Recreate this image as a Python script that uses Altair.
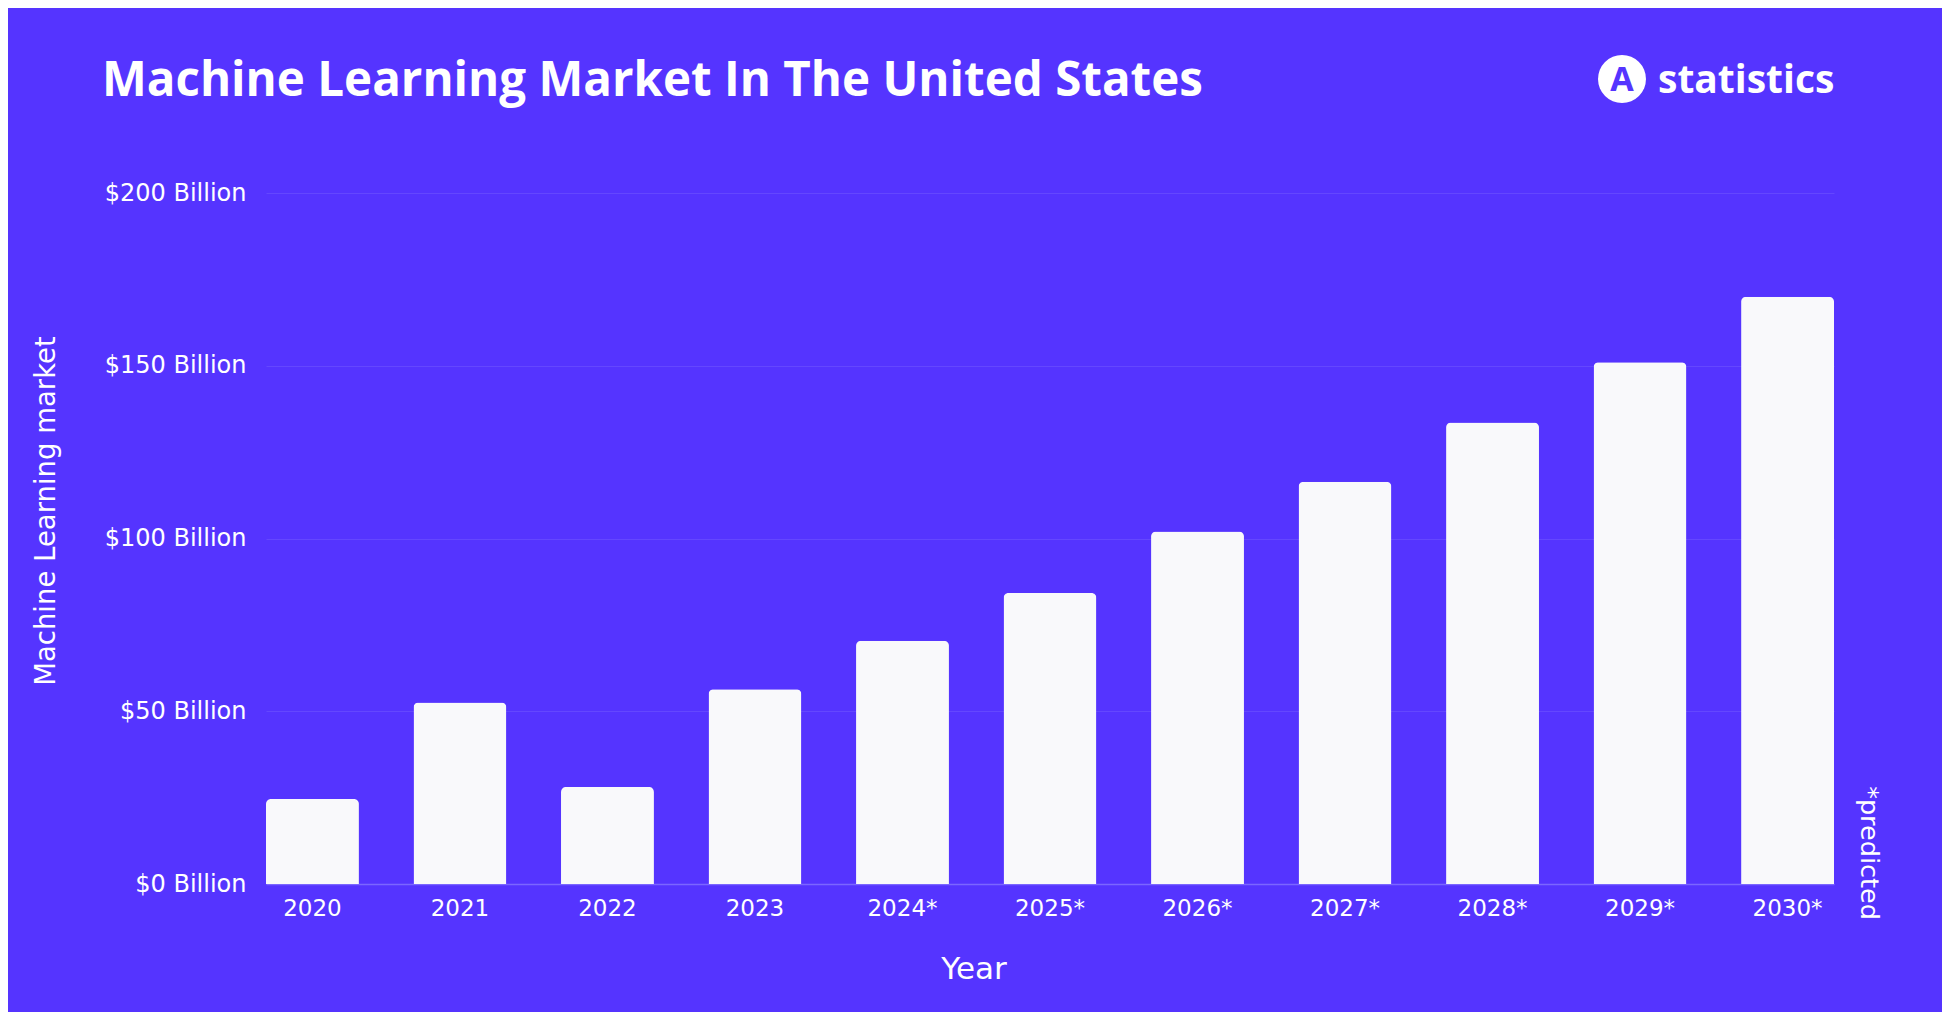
import altair as alt
import pandas as pd

years = ["2020", "2021", "2022", "2023", "2024*", "2025*", "2026*", "2027*", "2028*", "2029*", "2030*"]
market = [24.6, 52.5, 28.1, 56.4, 70.4, 84.2, 102.0, 116.4, 133.6, 151.0, 170.0]
y_ticks = [0, 50, 100, 150, 200]

title_text = "Machine Learning Market In The United States"
brand_text = "statistics"
y_title = "Machine Learning market"
x_title = "Year"
note_text = "*predicted"

BG = "#5534FF"
WHITE = "#FFFFFF"
BAR = "#F9F9FB"
FONT = "DejaVu Sans"

df = pd.DataFrame({"Year": years, "Market": market})

bars = alt.Chart(df).mark_bar(
    color=BAR, cornerRadiusTopLeft=5, cornerRadiusTopRight=5
).encode(
    x=alt.X("Year:N", sort=years,
            scale=alt.Scale(paddingInner=0.37, paddingOuter=0),
            axis=alt.Axis(title=None, labelAngle=0, ticks=False, domain=True,
                          domainColor="#7B66FF", domainWidth=1.5,
                          labelColor=WHITE, labelFont=FONT, labelFontSize=23,
                          labelPadding=13)),
    y=alt.Y("Market:Q",
            scale=alt.Scale(domain=[0, 200], nice=False),
            axis=alt.Axis(title=None, values=y_ticks, ticks=False, domain=False,
                          grid=True, gridColor="#6447FF", gridWidth=1,
                          labelColor=WHITE, labelFont=FONT, labelFontSize=24,
                          labelPadding=20,
                          labelExpr="'$' + datum.value + ' Billion'")),
)

def label(text, x, y, size, weight="normal", angle=0, align="left", color=WHITE, font=FONT):
    return alt.Chart(pd.DataFrame({"t": [text]})).mark_text(
        align=align, baseline="middle", fontSize=size, fontWeight=weight,
        angle=angle, color=color, font=font
    ).encode(x=alt.value(x), y=alt.value(y), text="t:N")

title = label(title_text, -164, -111, 47.5, weight="bold", font="Open Sans")
logo_circle = alt.Chart(pd.DataFrame({"t": ["A"]})).mark_point(
    filled=True, shape="circle", size=2300, color=WHITE, opacity=1
).encode(x=alt.value(1356), y=alt.value(-114))
logo_a = label("A", 1356, -112, 34, weight="bold", align="center", color=BG, font="Open Sans")
brand = label(brand_text, 1392, -112, 39, weight="bold", font="Open Sans")
ytitle = label(y_title, -219, 318, 27.5, angle=270, align="center")
xtitle = label(x_title, 708, 777, 31, align="center")
note = label(note_text, 1603, 660, 25.5, angle=90, align="center")

chart = alt.layer(
    bars, title, logo_circle, logo_a, brand, ytitle, xtitle, note
).properties(
    width=1568, height=691,
    autosize=alt.AutoSizeParams(type="none"),
    padding={"left": 258, "top": 185, "right": 108, "bottom": 128},
    background=BG,
).configure_view(stroke=None)

chart.save("out.html", embed_options={"renderer": "svg", "actions": False})
